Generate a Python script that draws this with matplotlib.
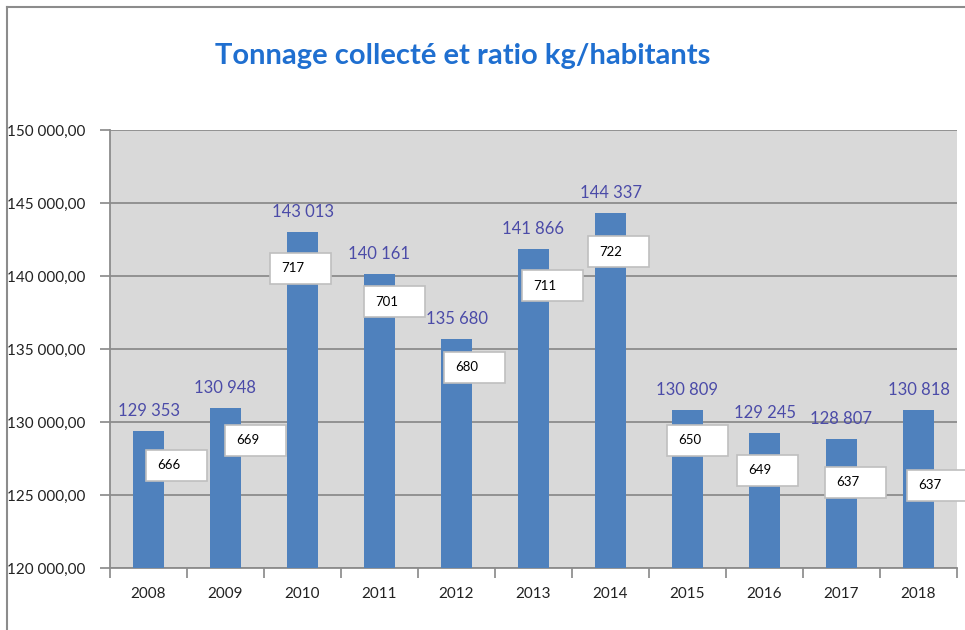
# Tonnage collecté et ratio kg/habitants - bar chart with value labels and ratio boxes

import matplotlib.pyplot as plt
from matplotlib.patches import Rectangle
from matplotlib.lines import Line2D
from matplotlib.transforms import ScaledTranslation

years = ['2008', '2009', '2010', '2011', '2012', '2013', '2014', '2015', '2016', '2017', '2018']
tonnage = [129353, 130948, 143013, 140161, 135680, 141866, 144337, 130809, 129245, 128807, 130818]
ratio = [666, 669, 717, 701, 680, 711, 722, 650, 649, 637, 637]

# where each ratio box sits, in pixels from the top of its bar (center of box)
box_dx = [28, 30, -2, 15, 18, 19, 8, 10, 3, 14, 19]
box_dy = [34, 32, 36, 28, 28, 37, 39, 30, 37, 43, 75]

plt.rcParams['font.family'] = ['Lato', 'DejaVu Sans']

def fr(v, dec=0):
    s = f"{v:,.{dec}f}"
    return s.replace(",", " ").replace(".", ",")

fig = plt.figure(figsize=(9.65, 6.3), dpi=100)
ax = fig.add_axes([110/965, 1-568/630, 847/965, 438/630])

ax.set_facecolor('#D9D9D9')
x = list(range(len(years)))
ax.bar(x, tonnage, width=0.40, color='#4F81BD', zorder=3)

ax.set_ylim(120000, 150000)
ax.set_xlim(-0.5, len(years) - 0.5)
ax.set_yticks(range(120000, 150001, 5000))
ax.set_yticklabels([fr(v, 2) for v in range(120000, 150001, 5000)])
ax.set_xticks(x)
ax.set_xticklabels(years)
ax.set_xticks([i - 0.5 for i in range(len(years) + 1)], minor=True)
ax.tick_params(axis='x', which='major', length=0, pad=14, labelsize=11, labelcolor='#222222')
ax.tick_params(axis='x', which='minor', length=7, color='#888888', width=1.2)
ax.tick_params(axis='y', length=7, color='#888888', width=1.2, labelsize=11, labelcolor='#222222', pad=11)
ax.grid(axis='y', color='#8C8C8C', linewidth=1.3, zorder=1)
for s in ['top', 'right']:
    ax.spines[s].set_visible(False)
for s in ['left', 'bottom']:
    ax.spines[s].set_color('#8C8C8C')
    ax.spines[s].set_linewidth(1.3)

for i, v in enumerate(tonnage):
    ax.annotate(fr(v), (i, v), xytext=(0, 12), textcoords='offset pixels',
                ha='center', va='bottom', fontsize=12, color='#4B4BA8')

bw, bh = 0.61, 0.31
for i, (v, r) in enumerate(zip(tonnage, ratio)):
    tr = fig.dpi_scale_trans + ScaledTranslation(i, v, ax.transData)
    cx, cy = box_dx[i] / 100, -box_dy[i] / 100
    rect = Rectangle((cx - bw/2, cy - bh/2), bw, bh, transform=tr,
                     facecolor='white', edgecolor='#BFBFBF', linewidth=1.2,
                     zorder=5, clip_on=False)
    ax.add_patch(rect)
    ax.text(cx - bw/2 + 0.11, cy, str(r), transform=tr, ha='left', va='center',
            fontsize=9.5, color='black', zorder=6)

fig.text(463/965, 1-56/630, 'Tonnage collecté et ratio kg/habitants', ha='center', va='center',
         fontsize=21, fontweight='bold', color='#1F6FD0')

# chart frame (partially visible in the screenshot)
fig.add_artist(Line2D([7/965, 7/965], [0, 1-7/630], color='#8C8C8C', linewidth=1.5))
fig.add_artist(Line2D([7/965, 1], [1-7/630, 1-7/630], color='#8C8C8C', linewidth=1.5))

fig.savefig('out.png', dpi=100)
